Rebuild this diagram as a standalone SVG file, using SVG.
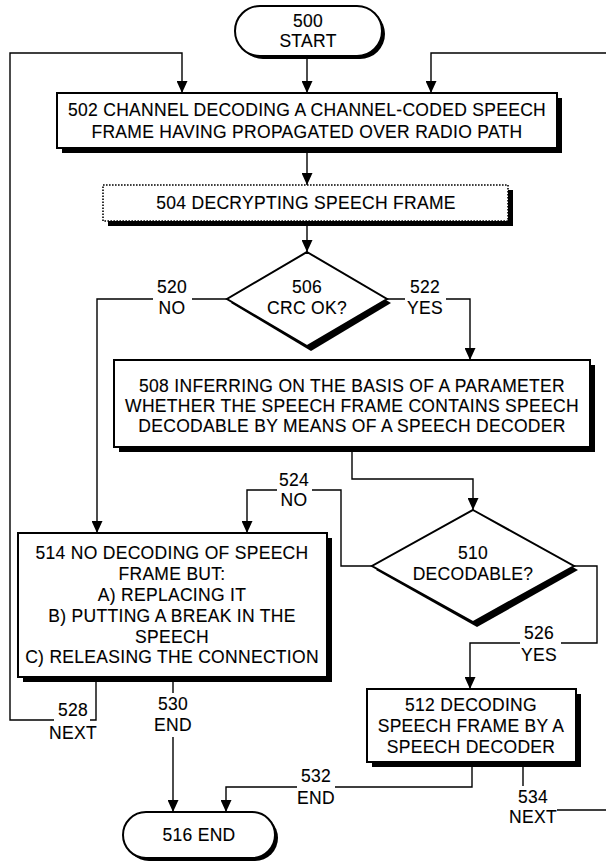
<svg xmlns="http://www.w3.org/2000/svg" width="606" height="863" viewBox="0 0 606 863">
  <defs>
    <style>
      .box { fill: #fff; stroke: #000; stroke-width: 2; }
      .dotted { fill: #fff; stroke: #000; stroke-width: 1.6; stroke-dasharray: 1.6 1.4; }
      .shadow { fill: #000; }
      .t { font-family: "Liberation Sans", Arial, sans-serif; font-size: 17.5px; letter-spacing: 0.3px; text-anchor: middle; fill: #000; stroke: #000; stroke-width: 0.12; }
      .c { fill: none; stroke: #000; stroke-width: 1.4; }
      .m { fill: #fff; }
    </style>
    <marker id="arrow" markerUnits="userSpaceOnUse" markerWidth="12" markerHeight="11" refX="12" refY="5.5" orient="auto">
      <path d="M0,0 L12,5.5 L0,11 z" fill="#000"/>
    </marker>
  </defs>

  <rect width="606" height="863" fill="#fff"/>

  <!-- connectors -->
  <g id="connectors">
    <path class="c" d="M307,56 V93" marker-end="url(#arrow)"/>
    <path class="c" d="M96,677 V720 H10 V53 H182 V93" marker-end="url(#arrow)"/>
    <path class="c" d="M523,762 V810 H612 V53 H431 V93" marker-end="url(#arrow)"/>
    <path class="c" d="M307,148 V185" marker-end="url(#arrow)"/>
    <path class="c" d="M307,221 V252" marker-end="url(#arrow)"/>
    <path class="c" d="M227,299 H97 V533" marker-end="url(#arrow)"/>
    <path class="c" d="M387,299 H470 V360" marker-end="url(#arrow)"/>
    <path class="c" d="M352,447 V479 H473 V510" marker-end="url(#arrow)"/>
    <path class="c" d="M372,566 H341 V490 H247 V533" marker-end="url(#arrow)"/>
    <path class="c" d="M574,566 H597 V643 H470 V689" marker-end="url(#arrow)"/>
    <path class="c" d="M173,677 V812" marker-end="url(#arrow)"/>
    <path class="c" d="M472,762 V787 H226 V812" marker-end="url(#arrow)"/>

    <!-- connector labels -->
    <g id="label-520">
      <rect class="m" x="153" y="276" width="39" height="44"/>
      <text class="t" x="172" y="293">520</text>
      <text class="t" x="172" y="314">NO</text>
    </g>
    <g id="label-522">
      <rect class="m" x="405" y="276" width="41" height="44"/>
      <text class="t" x="425" y="293">522</text>
      <text class="t" x="425" y="314">YES</text>
    </g>
    <g id="label-524">
      <rect class="m" x="277" y="469" width="35" height="42"/>
      <text class="t" x="294" y="486">524</text>
      <text class="t" x="294" y="506">NO</text>
    </g>
    <g id="label-526">
      <rect class="m" x="520" y="622" width="41" height="44"/>
      <text class="t" x="539" y="639">526</text>
      <text class="t" x="539" y="661">YES</text>
    </g>
    <g id="label-528">
      <rect class="m" x="54" y="699" width="36" height="44"/>
      <text class="t" x="73" y="716">528</text>
      <text class="t" x="73" y="739">NEXT</text>
    </g>
    <g id="label-530">
      <rect class="m" x="155" y="693" width="36" height="44"/>
      <text class="t" x="173" y="710">530</text>
      <text class="t" x="173" y="731">END</text>
    </g>
    <g id="label-532">
      <rect class="m" x="297" y="765" width="38" height="44"/>
      <text class="t" x="316" y="782">532</text>
      <text class="t" x="316" y="804">END</text>
    </g>
    <g id="label-534">
      <rect class="m" x="509" y="786" width="48" height="44"/>
      <text class="t" x="533" y="803">534</text>
      <text class="t" x="533" y="823">NEXT</text>
    </g>
  </g>

  <!-- 500 start -->
  <g id="node-500">
    <rect class="shadow" x="238" y="9" width="147" height="50" rx="25"/>
    <rect class="box" x="235" y="6" width="147" height="50" rx="25"/>
    <text class="t" x="308" y="27">500</text>
    <text class="t" x="308" y="47">START</text>
  </g>

  <!-- 502 channel decoding -->
  <g id="node-502">
    <rect class="shadow" x="62" y="98" width="500" height="55"/>
    <rect class="box" x="57" y="93" width="500" height="55"/>
    <text class="t" x="307" y="116">502 CHANNEL DECODING A CHANNEL-CODED SPEECH</text>
    <text class="t" x="307" y="138">FRAME HAVING PROPAGATED OVER RADIO PATH</text>
  </g>

  <!-- 504 decrypting -->
  <g id="node-504">
    <rect class="shadow" x="108" y="190" width="405" height="36"/>
    <rect class="dotted" x="103" y="185" width="405" height="36"/>
    <text class="t" x="306" y="209">504 DECRYPTING SPEECH FRAME</text>
  </g>

  <!-- 506 CRC check -->
  <g id="node-506">
    <polygon class="shadow" points="311,256 391,303 311,351 231,303"/>
    <polygon class="box" points="307,252 387,299 307,346 227,299"/>
    <text class="t" x="307" y="293">506</text>
    <text class="t" x="307" y="314">CRC OK?</text>
  </g>

  <!-- 508 inferring -->
  <g id="node-508">
    <rect class="shadow" x="119" y="365" width="476" height="87"/>
    <rect class="box" x="114" y="360" width="476" height="87"/>
    <text class="t" x="352" y="392">508 INFERRING ON THE BASIS OF A PARAMETER</text>
    <text class="t" x="352" y="412">WHETHER THE SPEECH FRAME CONTAINS SPEECH</text>
    <text class="t" x="352" y="432">DECODABLE BY MEANS OF A SPEECH DECODER</text>
  </g>

  <!-- 510 decodable -->
  <g id="node-510">
    <polygon class="shadow" points="477,514 578,570 477,627 376,570"/>
    <polygon class="box" points="473,510 574,566 473,622 372,566"/>
    <text class="t" x="473" y="559">510</text>
    <text class="t" x="473" y="580">DECODABLE?</text>
  </g>

  <!-- 514 no decoding -->
  <g id="node-514">
    <rect class="shadow" x="23" y="538" width="309" height="144"/>
    <rect class="box" x="18" y="533" width="309" height="144"/>
    <text class="t" x="172" y="559">514 NO DECODING OF SPEECH</text>
    <text class="t" x="172" y="580">FRAME BUT:</text>
    <text class="t" x="172" y="601">A) REPLACING IT</text>
    <text class="t" x="172" y="622">B) PUTTING A BREAK IN THE</text>
    <text class="t" x="172" y="643">SPEECH</text>
    <text class="t" x="172" y="663">C) RELEASING THE CONNECTION</text>
  </g>

  <!-- 512 decoding -->
  <g id="node-512">
    <rect class="shadow" x="372" y="694" width="209" height="73"/>
    <rect class="box" x="367" y="689" width="209" height="73"/>
    <text class="t" x="471" y="711">512 DECODING</text>
    <text class="t" x="471" y="732">SPEECH FRAME BY A</text>
    <text class="t" x="471" y="753">SPEECH DECODER</text>
  </g>

  <!-- 516 end -->
  <g id="node-516">
    <rect class="shadow" x="126" y="815" width="152" height="46" rx="23"/>
    <rect class="box" x="123" y="812" width="152" height="46" rx="23"/>
    <text class="t" x="199" y="841">516 END</text>
  </g>
</svg>
